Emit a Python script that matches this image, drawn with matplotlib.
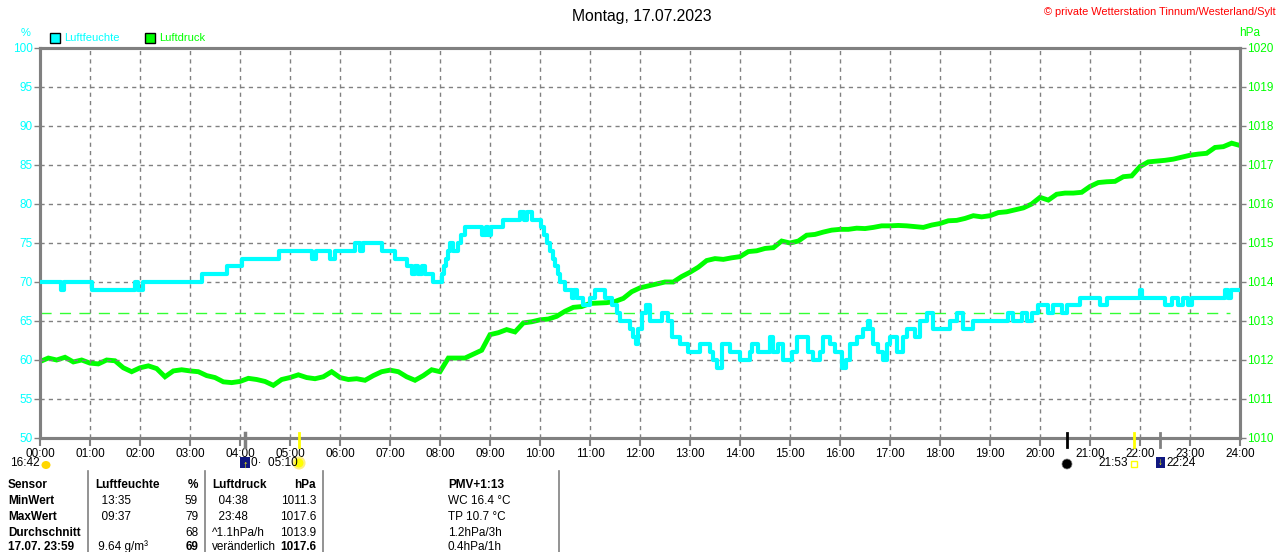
import numpy as np
import matplotlib
matplotlib.use("Agg")
import matplotlib.pyplot as plt
from matplotlib.lines import Line2D
from matplotlib.patches import Rectangle, Ellipse

plt.rcParams['font.family'] = ['Liberation Sans', 'DejaVu Sans']

# --- data ------------------------------------------------------------------
# humidity (%) change points: hour of day, value held until next point
hum_hours = [0.0, 0.42, 0.48, 1.04, 1.9, 1.96, 2.06, 3.24, 3.74, 4.04, 4.78,
             5.44, 5.52, 5.8, 5.9, 6.3, 6.4, 6.46, 6.84, 7.1, 7.34, 7.44,
             7.5, 7.56, 7.64, 7.7, 7.86, 8.04, 8.08, 8.12, 8.16, 8.2, 8.26,
             8.36, 8.42, 8.5, 8.84, 8.92, 8.96, 9.02, 9.26, 9.6, 9.68, 9.74,
             9.84, 10.02, 10.08, 10.14, 10.2, 10.26, 10.3, 10.36, 10.4, 10.5,
             10.64, 10.68, 10.74, 10.86, 11.0, 11.1, 11.3, 11.44, 11.54, 11.6,
             11.8, 11.86, 11.92, 11.96, 12.04, 12.12, 12.2, 12.44, 12.56,
             12.64, 12.8, 12.96, 13.2, 13.4, 13.46, 13.54, 13.64, 13.8, 14.0,
             14.2, 14.24, 14.36, 14.6, 14.66, 14.76, 14.86, 15.04, 15.14,
             15.36, 15.46, 15.6, 15.66, 15.8, 15.9, 16.04, 16.12, 16.2, 16.34,
             16.46, 16.56, 16.6, 16.66, 16.76, 16.86, 16.94, 17.0, 17.14,
             17.26, 17.34, 17.5, 17.6, 17.74, 17.86, 18.2, 18.34, 18.46,
             18.66, 19.36, 19.46, 19.64, 19.74, 19.84, 19.96, 20.16, 20.26,
             20.44, 20.54, 20.8, 21.2, 21.34, 22.0, 22.04, 22.5, 22.64, 22.76,
             22.86, 22.96, 23.04, 23.7, 23.76, 23.82, 24.0]
hum_values = [70, 69, 70, 69, 70, 69, 70, 71, 72, 73, 74,
              73, 74, 73, 74, 75, 74, 75, 74, 73, 72, 71,
              72, 71, 72, 71, 70, 71, 72, 73, 74, 75, 74,
              75, 76, 77, 76, 77, 76, 77, 78, 79, 78, 79,
              78, 77, 76, 75, 74, 73, 72, 71, 70, 69,
              68, 69, 68, 67, 68, 69, 68, 67, 66, 65,
              64, 63, 62, 64, 66, 67, 65, 66, 65,
              63, 62, 61, 62, 61, 60, 59, 62, 61, 60,
              61, 62, 61, 63, 61, 62, 60, 61, 63,
              61, 60, 61, 63, 62, 61, 59, 60, 62, 63,
              64, 65, 64, 62, 61, 60, 62, 63, 61,
              63, 64, 63, 65, 66, 64, 65, 66, 64,
              65, 66, 65, 66, 65, 66, 67, 66, 67,
              66, 67, 68, 67, 68, 69, 68, 67, 68, 67,
              68, 67, 68, 69, 68, 69, 69]

# air pressure (hPa), one reading every 10 minutes from 00:00 to 24:00
pressure = [1011.96, 1012.05, 1012.00, 1012.07, 1011.95, 1012.00, 1011.92,
            1011.90, 1012.00, 1011.98, 1011.80, 1011.70, 1011.80, 1011.85,
            1011.78, 1011.57, 1011.72, 1011.75, 1011.72, 1011.70, 1011.60,
            1011.55, 1011.44, 1011.42, 1011.45, 1011.53, 1011.50, 1011.45,
            1011.35, 1011.50, 1011.55, 1011.62, 1011.55, 1011.52, 1011.57,
            1011.70, 1011.55, 1011.50, 1011.52, 1011.48, 1011.60, 1011.70,
            1011.74, 1011.70, 1011.57, 1011.48, 1011.60, 1011.75, 1011.70,
            1012.05, 1012.05, 1012.05, 1012.15, 1012.25, 1012.65, 1012.70,
            1012.78, 1012.72, 1012.95, 1012.98, 1013.03, 1013.05, 1013.12,
            1013.25, 1013.35, 1013.37, 1013.45, 1013.46, 1013.47, 1013.50,
            1013.58, 1013.75, 1013.85, 1013.90, 1013.95, 1014.00, 1014.00,
            1014.14, 1014.25, 1014.38, 1014.55, 1014.60, 1014.58, 1014.62,
            1014.65, 1014.78, 1014.80, 1014.86, 1014.88, 1015.05, 1015.00,
            1015.05, 1015.20, 1015.22, 1015.28, 1015.33, 1015.35, 1015.35,
            1015.38, 1015.37, 1015.40, 1015.44, 1015.44, 1015.45, 1015.44,
            1015.42, 1015.40, 1015.46, 1015.50, 1015.57, 1015.58, 1015.63,
            1015.70, 1015.67, 1015.70, 1015.78, 1015.80, 1015.85, 1015.90,
            1016.00, 1016.17, 1016.10, 1016.25, 1016.28, 1016.28, 1016.30,
            1016.45, 1016.55, 1016.57, 1016.58, 1016.70, 1016.72, 1016.96,
            1017.08, 1017.10, 1017.12, 1017.15, 1017.20, 1017.25, 1017.28,
            1017.30, 1017.45, 1017.47, 1017.56, 1017.50]
pressure_hours = np.arange(len(pressure)) / 6.0

ref_line_hum = 66  # dashed reference line

hour_labels = [f"{h:02d}:00" for h in range(25)]
hum_ticks = list(range(50, 101, 5))
press_ticks = list(range(1010, 1021))

title = "Montag, 17.07.2023"
copyright_text = "\u00a9 private Wetterstation Tinnum/Westerland/Sylt"

table_rows = [
    ("Sensor", "", "%", "Luftdruck", "hPa", "PMV+1:13"),
    ("MinWert", "  13:35", "59", "  04:38", "1011.3", "WC 16.4 \u00b0C"),
    ("MaxWert", "  09:37", "79", "  23:48", "1017.6", "TP 10.7 \u00b0C"),
    ("Durchschnitt", "", "68", "^1.1hPa/h", "1013.9", "1.2hPa/3h"),
    ("17.07. 23:59", " 9.64 g/m\u00b3", "69", "ver\u00e4nderlich", "1017.6", "0.4hPa/1h"),
]

# --- figure ---------------------------------------------------------------
W, H = 1280, 552
CYAN = "#00FFFF"
GREEN = "#00FF00"
GRAY = "#808080"

fig = plt.figure(figsize=(W / 100, H / 100), dpi=100)


def fx(x):
    return x / W


def fy(y):
    return 1 - y / H


def dot(x, y, d, face, edge='none', lw=0.0):
    # round mark of d pixels, placed in pixel coordinates
    fig.patches.append(Ellipse((fx(x), fy(y)), d / W, d / H,
                               transform=fig.transFigure, facecolor=face,
                               edgecolor=edge, lw=lw))


ax = fig.add_axes([fx(40), fy(438), 1200 / W, 390 / H])
ax2 = ax.twinx()

ax.set_xlim(0, 24)
ax.set_ylim(50, 100)
ax2.set_ylim(1010, 1020)

ax.set_xticks(range(25))
ax.set_xticklabels(hour_labels)
ax.set_yticks(hum_ticks)
ax2.set_yticks(press_ticks)

for a in (ax, ax2):
    for s in a.spines.values():
        s.set_color(GRAY)
        s.set_linewidth(2.2)

ax.tick_params(axis='x', colors=GRAY, labelcolor='black', length=6, width=1.5,
               labelsize=8.5, pad=1.5)
ax.tick_params(axis='y', colors=GRAY, labelcolor=CYAN, length=4, width=1,
               labelsize=8.5, pad=1)
ax2.tick_params(axis='y', colors=GRAY, labelcolor=GREEN, length=4, width=1,
                labelsize=8.5, pad=1)

# dashed grid
for h in range(1, 24):
    ax.axvline(h, color=GRAY, lw=1, ls=(0, (3, 3)), zorder=1)
for v in hum_ticks[1:-1]:
    ax.axhline(v, color=GRAY, lw=1, ls=(0, (3, 3)), zorder=1)

ax.axhline(ref_line_hum, xmax=1190 / 1200, color=GREEN, lw=1,
           ls=(0, (8, 6)), zorder=2, alpha=0.8)

ax2.plot(pressure_hours, pressure, color=GREEN, lw=3.5, zorder=3,
         solid_joinstyle='miter')
ax.plot(hum_hours, hum_values, color=CYAN, lw=3, drawstyle='steps-post',
        zorder=4)
ax.set_zorder(ax2.get_zorder() + 1)
ax.patch.set_visible(False)

# --- texts above the plot ---------------------------------------------------
fig.text(fx(642), fy(16), title, ha='center', va='center', fontsize=11.3)
fig.text(fx(1276), fy(12), copyright_text, ha='right', va='center',
         fontsize=7.9, color='red')
fig.text(fx(26), fy(33), "%", ha='center', va='center', fontsize=8,
         color=CYAN)
fig.text(fx(1250), fy(33), "hPa", ha='center', va='center', fontsize=8.5,
         color=GREEN)

for x0, col, label in [(50, CYAN, "Luftfeuchte"), (145, GREEN, "Luftdruck")]:
    fig.patches.append(Rectangle((fx(x0), fy(43)), 10 / W, 10 / H,
                                 transform=fig.transFigure, facecolor=col,
                                 edgecolor='black', lw=1))
    fig.text(fx(x0 + 14), fy(38), label, ha='left', va='center',
             fontsize=8, color=col)

# --- sun / moon marks under the axis ---------------------------------------
for x, col, lw in [(245, GRAY, 2.5), (299, 'yellow', 2), (1067, 'black', 2),
                   (1134, 'yellow', 2), (1160, GRAY, 2)]:
    fig.lines.append(Line2D([fx(x), fx(x)], [fy(433), fy(447)], color=col,
                            lw=lw, transform=fig.transFigure))

fig.text(fx(10), fy(463), "16:42", ha='left', va='center', fontsize=8.5)
fig.patches.append(Ellipse((fx(46), fy(465)), 9 / W, 8 / H,
                           transform=fig.transFigure, facecolor='#FFD700',
                           edgecolor='none'))
fig.patches.append(Rectangle((fx(240), fy(468)), 10 / W, 11 / H,
                             transform=fig.transFigure, facecolor='#101880',
                             edgecolor='none'))
fig.text(fx(245), fy(464), "\u2191", ha='center', va='center', fontsize=8,
         color='yellow', fontweight='bold')
fig.text(fx(251), fy(463), "0\u00b7  05:10", ha='left', va='center',
         fontsize=8.5)
dot(299, 463, 11, 'yellow', '#FFF080', 1.5)
dot(1067, 464, 10, 'black', GRAY, 0.5)
fig.text(fx(1128), fy(463), "21:53", ha='right', va='center', fontsize=8.5)
fig.patches.append(Rectangle((fx(1131), fy(467)), 6 / W, 6 / H,
                             transform=fig.transFigure, facecolor='none',
                             edgecolor='yellow', lw=1))
fig.patches.append(Rectangle((fx(1156), fy(468)), 9 / W, 11 / H,
                             transform=fig.transFigure, facecolor='#101880',
                             edgecolor='none'))
fig.text(fx(1160), fy(462), "\u2193", ha='center', va='center', fontsize=7,
         color='yellow', fontweight='bold')
fig.text(fx(1166), fy(463), "22:24", ha='left', va='center', fontsize=8.5)

# --- statistics table -----------------------------------------------------
for x in (88, 205, 323, 559):
    fig.lines.append(Line2D([fx(x), fx(x)], [fy(471), fy(552)], color=GRAY,
                            lw=1.2, transform=fig.transFigure))

row_y = [485, 501, 517, 533, 547]
for i, (name, c1, c2, c3, c4, c5) in enumerate(table_rows):
    y = fy(row_y[i])
    fig.text(fx(8), y, name, ha='left', va='center', fontsize=8.5,
             fontweight='bold')
    head = i == 0
    last = i == len(table_rows) - 1
    fig.text(fx(95), y, "Luftfeuchte" if head else c1, ha='left',
             va='center', fontsize=8.5, fontweight='bold' if head else 'normal')
    fig.text(fx(198), y, c2, ha='right', va='center', fontsize=8.5,
             fontweight='bold' if (head or last) else 'normal')
    fig.text(fx(212), y, c3, ha='left', va='center', fontsize=8.5,
             fontweight='bold' if head else 'normal')
    fig.text(fx(316), y, c4, ha='right', va='center', fontsize=8.5,
             fontweight='bold' if (head or last) else 'normal')
    fig.text(fx(448), y, c5, ha='left', va='center', fontsize=8.5,
             fontweight='bold' if head else 'normal')

fig.savefig("out.png", dpi=100)
